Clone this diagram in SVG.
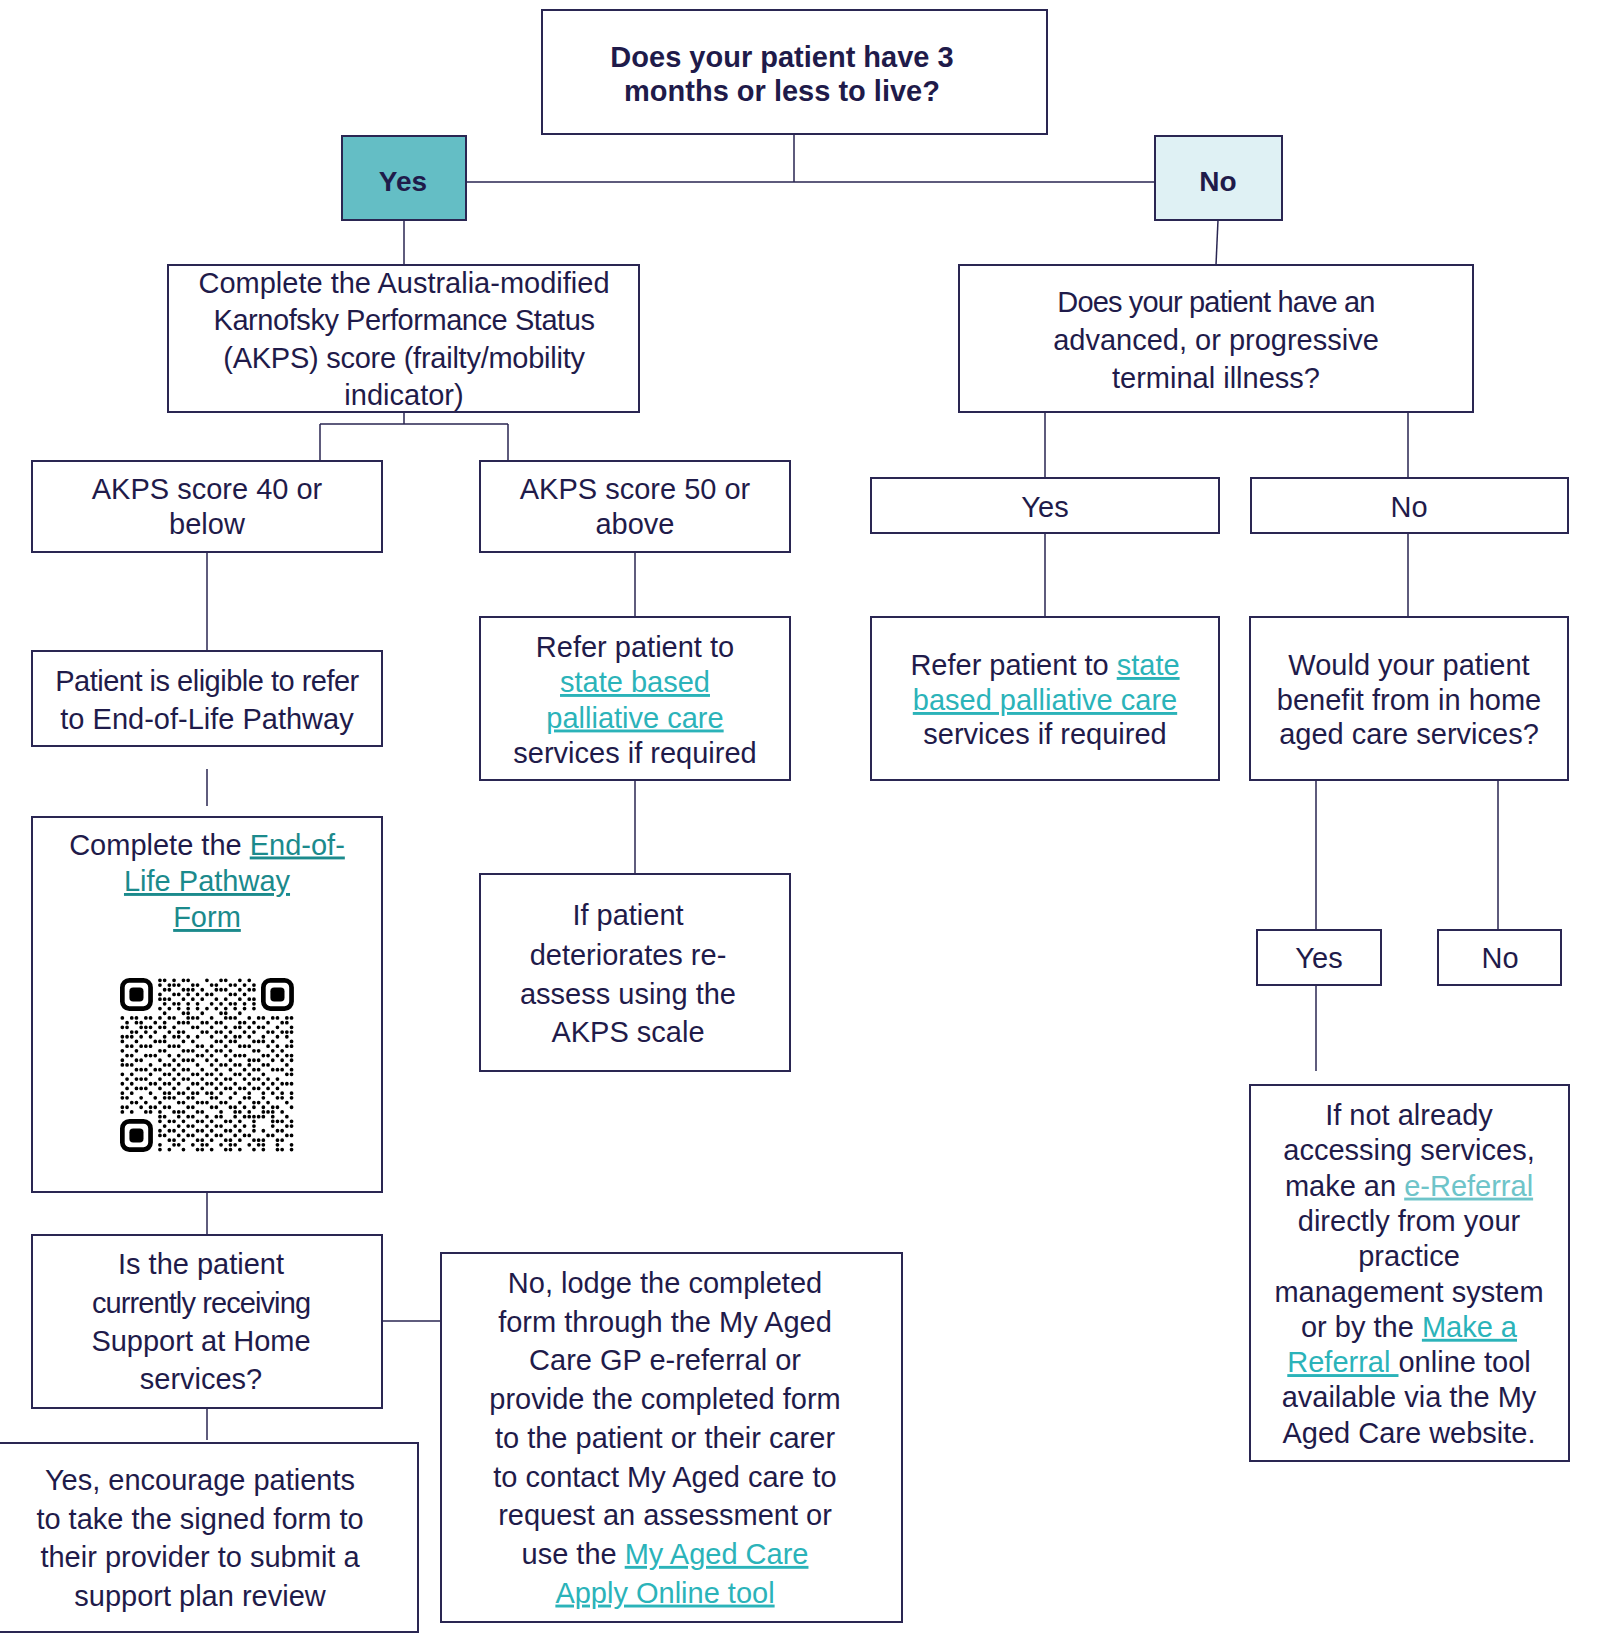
<svg xmlns="http://www.w3.org/2000/svg" width="1599" height="1637" viewBox="0 0 1599 1637">
<style>
.box{fill:#fff;stroke:#2a2652;stroke-width:2}
.t{font-family:"Liberation Sans",Arial,sans-serif;font-size:29px;fill:#1f1b4a;text-anchor:middle}
.b{font-weight:bold}
.lk{fill:#2bb3b9;text-decoration:underline}
.lk2{fill:#1b8a8c;text-decoration:underline}
.lk3{fill:#6ec4c9;text-decoration:underline}
.conn{stroke:#2a2652;stroke-width:1.5;fill:none}
</style>
<rect width="1599" height="1637" fill="#fff"/>
<g id="connectors" class="conn">
<path d="M794 134V182M466 182H1155"/>
<path d="M404 220V265"/>
<path d="M1218 220L1216 265"/>
<path d="M404 412V424M320 424H508M320 424V461M508 424V461"/>
<path d="M207 552V651"/>
<path d="M207 769V806"/>
<path d="M207 1192V1235"/>
<path d="M382 1321H441"/>
<path d="M207 1408V1440"/>
<path d="M635 552V617"/>
<path d="M635 780V874"/>
<path d="M1045 412V478M1408 412V478"/>
<path d="M1045 533V617M1408 533V617"/>
<path d="M1316 780V930M1498 780V930"/>
<path d="M1316 985V1071"/>
</g>
<g id="n-top">
<rect class="box" x="542" y="10" width="505" height="124"/>
<text class="t b"><tspan x="782" y="67">Does your patient have 3</tspan><tspan x="782" y="101">months or less to live?</tspan></text>
</g>
<g id="n-yes">
<rect class="box" x="342" y="136" width="124" height="84" style="fill:#64bec5"/>
<text class="t b" x="403" y="191" style="font-size:28px">Yes</text>
</g>
<g id="n-no">
<rect class="box" x="1155" y="136" width="127" height="84" style="fill:#dff1f4"/>
<text class="t b" x="1218" y="191" style="font-size:28px">No</text>
</g>
<g id="n-akps">
<rect class="box" x="168" y="265" width="471" height="147"/>
<text class="t"><tspan x="404" y="292.5">Complete the Australia-modified</tspan><tspan x="404" y="330" letter-spacing="-0.44">Karnofsky Performance Status</tspan><tspan x="404" y="367.5" letter-spacing="-0.25">(AKPS) score (frailty/mobility</tspan><tspan x="404" y="405">indicator)</tspan></text>
</g>
<g id="n-q2">
<rect class="box" x="959" y="265" width="514" height="147"/>
<text class="t"><tspan x="1216" y="312" letter-spacing="-0.85">Does your patient have an</tspan><tspan x="1216" y="350">advanced, or progressive</tspan><tspan x="1216" y="388">terminal illness?</tspan></text>
</g>
<g id="n-akps40">
<rect class="box" x="32" y="461" width="350" height="91"/>
<text class="t"><tspan x="207" y="499">AKPS score 40 or</tspan><tspan x="207" y="534">below</tspan></text>
</g>
<g id="n-akps50">
<rect class="box" x="480" y="461" width="310" height="91"/>
<text class="t"><tspan x="635" y="499">AKPS score 50 or</tspan><tspan x="635" y="534">above</tspan></text>
</g>
<g id="n-yes2">
<rect class="box" x="871" y="478" width="348" height="55"/>
<text class="t" x="1045" y="516.5">Yes</text>
</g>
<g id="n-no2">
<rect class="box" x="1251" y="478" width="317" height="55"/>
<text class="t" x="1409" y="516.5">No</text>
</g>
<g id="n-eligible">
<rect class="box" x="32" y="651" width="350" height="95"/>
<text class="t"><tspan x="207" y="691" letter-spacing="-0.5">Patient is eligible to refer</tspan><tspan x="207" y="729">to End-of-Life Pathway</tspan></text>
</g>
<g id="n-refer-left">
<rect class="box" x="480" y="617" width="310" height="163"/>
<text class="t"><tspan x="635" y="656.5">Refer patient to</tspan><tspan x="635" y="692" class="lk">state based</tspan><tspan x="635" y="727.5" class="lk">palliative care</tspan><tspan x="635" y="762.5">services if required</tspan></text>
</g>
<g id="n-refer-right">
<rect class="box" x="871" y="617" width="348" height="163"/>
<text class="t"><tspan x="1045" y="675">Refer patient to <tspan class="lk">state</tspan></tspan><tspan x="1045" y="710" class="lk">based palliative care</tspan><tspan x="1045" y="744">services if required</tspan></text>
</g>
<g id="n-would">
<rect class="box" x="1250" y="617" width="318" height="163"/>
<text class="t"><tspan x="1409" y="675">Would your patient</tspan><tspan x="1409" y="710">benefit from in home</tspan><tspan x="1409" y="744">aged care services?</tspan></text>
</g>
<g id="n-eol">
<rect class="box" x="32" y="817" width="350" height="375"/>
<text class="t"><tspan x="207" y="854.5">Complete the <tspan class="lk2">End-of-</tspan></tspan><tspan x="207" y="891" class="lk2">Life Pathway</tspan><tspan x="207" y="927" class="lk2">Form</tspan></text>
<g transform="translate(122.35,980.35) scale(4.7)">
<g fill="none" stroke="#000" stroke-width="1">
<rect x="0" y="0" width="6" height="6" rx="1.5"/>
<rect x="30" y="0" width="6" height="6" rx="1.5"/>
<rect x="0" y="30" width="6" height="6" rx="1.5"/>
</g>
<g fill="#000">
<rect x="1.5" y="1.5" width="3" height="3" rx="0.8"/>
<rect x="31.5" y="1.5" width="3" height="3" rx="0.8"/>
<rect x="1.5" y="31.5" width="3" height="3" rx="0.8"/>
</g>
<path fill="none" stroke="#000" stroke-width="0.8" stroke-linecap="round" d="M8 0h0m1 0h0m2 0h0m2 0h0m1 0h0m4 0h0m3 0h0m1 0h0m3 0h0m2 0h0M8 1h0m2 0h0m1 0h0m1 0h0m3 0h0m1 0h0m3 0h0m1 0h0m3 0h0m1 0h0m2 0h0m2 0h0M9 2h0m1 0h0m3 0h0m1 0h0m1 0h0m2 0h0m3 0h0m1 0h0m1 0h0m3 0h0m2 0h0m1 0h0M8 3h0m3 0h0m1 0h0m2 0h0m2 0h0m2 0h0m1 0h0m4 0h0m1 0h0m2 0h0M8 4h0m1 0h0m1 0h0m3 0h0m2 0h0m2 0h0m3 0h0m2 0h0m3 0h0m2 0h0m1 0h0M9 5h0m2 0h0m1 0h0m2 0h0m2 0h0m3 0h0m2 0h0m2 0h0m1 0h0m2 0h0m2 0h0M8 6h0m2 0h0m2 0h0m2 0h0m2 0h0m2 0h0m2 0h0m2 0h0m2 0h0m2 0h0m2 0h0M9 7h0m4 0h0m1 0h0m3 0h0m4 0h0m1 0h0m3 0h0M0 8h0m2 0h0m1 0h0m2 0h0m1 0h0m2 0h0m2 0h0m1 0h0m3 0h0m1 0h0m1 0h0m3 0h0m3 0h0m1 0h0m1 0h0m3 0h0m2 0h0m1 0h0m2 0h0m1 0h0m2 0h0m1 0h0M1 9h0m2 0h0m1 0h0m3 0h0m2 0h0m3 0h0m1 0h0m1 0h0m3 0h0m1 0h0m2 0h0m1 0h0m4 0h0m1 0h0m2 0h0m3 0h0m3 0h0m1 0h0M0 10h0m1 0h0m3 0h0m1 0h0m1 0h0m2 0h0m1 0h0m2 0h0m4 0h0m1 0h0m3 0h0m3 0h0m2 0h0m1 0h0m2 0h0m2 0h0m1 0h0m3 0h0m3 0h0M2 11h0m1 0h0m2 0h0m2 0h0m3 0h0m2 0h0m1 0h0m4 0h0m1 0h0m2 0h0m1 0h0m2 0h0m3 0h0m2 0h0m3 0h0m1 0h0m2 0h0m1 0h0m1 0h0M0 12h0m1 0h0m1 0h0m2 0h0m2 0h0m3 0h0m2 0h0m1 0h0m2 0h0m2 0h0m3 0h0m3 0h0m2 0h0m1 0h0m2 0h0m3 0h0m3 0h0m2 0h0M0 13h0m3 0h0m4 0h0m1 0h0m1 0h0m4 0h0m2 0h0m5 0h0m1 0h0m2 0h0m1 0h0m4 0h0m1 0h0m1 0h0m2 0h0m4 0h0M1 14h0m1 0h0m2 0h0m1 0h0m1 0h0m4 0h0m1 0h0m1 0h0m4 0h0m1 0h0m2 0h0m3 0h0m3 0h0m1 0h0m1 0h0m4 0h0m2 0h0m2 0h0m1 0h0M0 15h0m3 0h0m5 0h0m1 0h0m4 0h0m1 0h0m1 0h0m3 0h0m2 0h0m1 0h0m2 0h0m5 0h0m1 0h0m3 0h0m2 0h0M1 16h0m1 0h0m3 0h0m1 0h0m1 0h0m3 0h0m2 0h0m4 0h0m1 0h0m2 0h0m3 0h0m2 0h0m1 0h0m1 0h0m4 0h0m1 0h0m2 0h0m2 0h0m1 0h0M0 17h0m3 0h0m1 0h0m4 0h0m3 0h0m2 0h0m1 0h0m1 0h0m3 0h0m2 0h0m3 0h0m4 0h0m1 0h0m1 0h0m3 0h0m2 0h0m2 0h0M0 18h0m1 0h0m1 0h0m4 0h0m3 0h0m1 0h0m2 0h0m4 0h0m3 0h0m2 0h0m1 0h0m2 0h0m1 0h0m2 0h0m3 0h0m1 0h0m4 0h0M3 19h0m1 0h0m1 0h0m2 0h0m1 0h0m3 0h0m2 0h0m1 0h0m3 0h0m3 0h0m3 0h0m3 0h0m2 0h0m1 0h0m3 0h0m1 0h0m1 0h0m2 0h0M0 20h0m2 0h0m4 0h0m3 0h0m1 0h0m2 0h0m3 0h0m1 0h0m2 0h0m1 0h0m2 0h0m3 0h0m1 0h0m2 0h0m3 0h0m5 0h0m1 0h0M1 21h0m2 0h0m1 0h0m1 0h0m3 0h0m3 0h0m2 0h0m1 0h0m3 0h0m3 0h0m2 0h0m1 0h0m3 0h0m2 0h0m1 0h0m2 0h0m2 0h0M0 22h0m2 0h0m4 0h0m1 0h0m2 0h0m1 0h0m2 0h0m3 0h0m1 0h0m2 0h0m1 0h0m2 0h0m3 0h0m3 0h0m3 0h0m2 0h0m2 0h0m1 0h0m1 0h0M1 23h0m2 0h0m1 0h0m1 0h0m3 0h0m3 0h0m3 0h0m3 0h0m3 0h0m2 0h0m1 0h0m2 0h0m1 0h0m2 0h0m1 0h0m2 0h0m2 0h0M0 24h0m2 0h0m4 0h0m3 0h0m1 0h0m2 0h0m1 0h0m2 0h0m1 0h0m2 0h0m1 0h0m2 0h0m3 0h0m3 0h0m3 0h0m2 0h0m2 0h0m2 0h0M0 25h0m1 0h0m3 0h0m3 0h0m2 0h0m1 0h0m1 0h0m3 0h0m1 0h0m4 0h0m1 0h0m3 0h0m3 0h0m1 0h0m3 0h0m3 0h0m1 0h0m2 0h0M2 26h0m1 0h0m2 0h0m3 0h0m4 0h0m1 0h0m3 0h0m1 0h0m1 0h0m3 0h0m1 0h0m3 0h0m3 0h0m1 0h0m2 0h0m4 0h0M0 27h0m1 0h0m3 0h0m2 0h0m1 0h0m2 0h0m1 0h0m4 0h0m1 0h0m4 0h0m1 0h0m3 0h0m1 0h0m2 0h0m2 0h0m2 0h0m2 0h0m1 0h0m3 0h0M0 28h0m2 0h0m3 0h0m1 0h0m2 0h0m3 0h0m1 0h0m1 0h0m3 0h0m1 0h0m4 0h0m3 0h0m1 0h0m2 0h0m3 0h0m1 0h0m1 0h0m2 0h0M8 29h0m1 0h0m3 0h0m2 0h0m1 0h0m3 0h0m2 0h0m1 0h0m3 0h0m2 0h0m1 0h0m1 0h0m1 0h0m1 0h0m2 0h0m3 0h0M8 30h0m2 0h0m1 0h0m2 0h0m3 0h0m1 0h0m2 0h0m3 0h0m1 0h0m2 0h0m3 0h0m4 0h0m1 0h0m1 0h0m2 0h0M9 31h0m3 0h0m2 0h0m1 0h0m3 0h0m2 0h0m1 0h0m3 0h0m2 0h0m2 0h0m4 0h0m3 0h0m1 0h0M8 32h0m2 0h0m1 0h0m2 0h0m3 0h0m1 0h0m2 0h0m3 0h0m1 0h0m2 0h0m3 0h0m2 0h0m3 0h0m1 0h0M8 33h0m1 0h0m3 0h0m2 0h0m1 0h0m3 0h0m2 0h0m1 0h0m3 0h0m2 0h0m1 0h0m4 0h0m1 0h0m3 0h0m1 0h0M10 34h0m1 0h0m2 0h0m3 0h0m1 0h0m2 0h0m3 0h0m1 0h0m2 0h0m3 0h0m1 0h0m1 0h0m3 0h0m1 0h0M8 35h0m3 0h0m1 0h0m3 0h0m2 0h0m1 0h0m3 0h0m2 0h0m1 0h0m3 0h0m2 0h0m1 0h0m3 0h0m3 0h0M8 36h0m2 0h0m3 0h0m3 0h0m1 0h0m2 0h0m3 0h0m1 0h0m2 0h0m3 0h0m2 0h0m3 0h0m1 0h0m2 0h0"/>
</g>
</g>
<g id="n-deteriorates">
<rect class="box" x="480" y="874" width="310" height="197"/>
<text class="t"><tspan x="628" y="925">If patient</tspan><tspan x="628" y="964.5">deteriorates re-</tspan><tspan x="628" y="1003.5">assess using the</tspan><tspan x="628" y="1042">AKPS scale</tspan></text>
</g>
<g id="n-yes3">
<rect class="box" x="1257" y="930" width="124" height="55"/>
<text class="t" x="1319" y="968">Yes</text>
</g>
<g id="n-no3">
<rect class="box" x="1438" y="930" width="123" height="55"/>
<text class="t" x="1500" y="968">No</text>
</g>
<g id="n-ereferral">
<rect class="box" x="1250" y="1085" width="319" height="376"/>
<text class="t"><tspan x="1409" y="1125">If not already</tspan><tspan x="1409" y="1160.3">accessing services,</tspan><tspan x="1409" y="1195.6">make an <tspan class="lk3">e-Referral</tspan></tspan><tspan x="1409" y="1230.9">directly from your</tspan><tspan x="1409" y="1266.2">practice</tspan><tspan x="1409" y="1301.5">management system</tspan><tspan x="1409" y="1336.8">or by the <tspan class="lk">Make a</tspan></tspan><tspan x="1409" y="1372.1"><tspan class="lk">Referral </tspan>online tool</tspan><tspan x="1409" y="1407.4">available via the My</tspan><tspan x="1409" y="1442.7">Aged Care website.</tspan></text>
</g>
<g id="n-sah">
<rect class="box" x="32" y="1235" width="350" height="173"/>
<text class="t"><tspan x="201" y="1274">Is the patient</tspan><tspan x="201" y="1312.5" letter-spacing="-0.9">currently receiving</tspan><tspan x="201" y="1350.5">Support at Home</tspan><tspan x="201" y="1388.5">services?</tspan></text>
</g>
<g id="n-lodge">
<rect class="box" x="441" y="1253" width="461" height="369"/>
<text class="t"><tspan x="665" y="1293">No, lodge the completed</tspan><tspan x="665" y="1331.7">form through the My Aged</tspan><tspan x="665" y="1370.4">Care GP e-referral or</tspan><tspan x="665" y="1409.1">provide the completed form</tspan><tspan x="665" y="1447.8">to the patient or their carer</tspan><tspan x="665" y="1486.5">to contact My Aged care to</tspan><tspan x="665" y="1525.2">request an assessment or</tspan><tspan x="665" y="1563.9">use the <tspan class="lk">My Aged Care</tspan></tspan><tspan x="665" y="1602.6" class="lk">Apply Online tool</tspan></text>
</g>
<g id="n-review">
<rect class="box" x="-2" y="1443" width="420" height="189"/>
<text class="t"><tspan x="200" y="1490">Yes, encourage patients</tspan><tspan x="200" y="1528.5">to take the signed form to</tspan><tspan x="200" y="1567">their provider to submit a</tspan><tspan x="200" y="1605.5">support plan review</tspan></text>
</g>
</svg>
